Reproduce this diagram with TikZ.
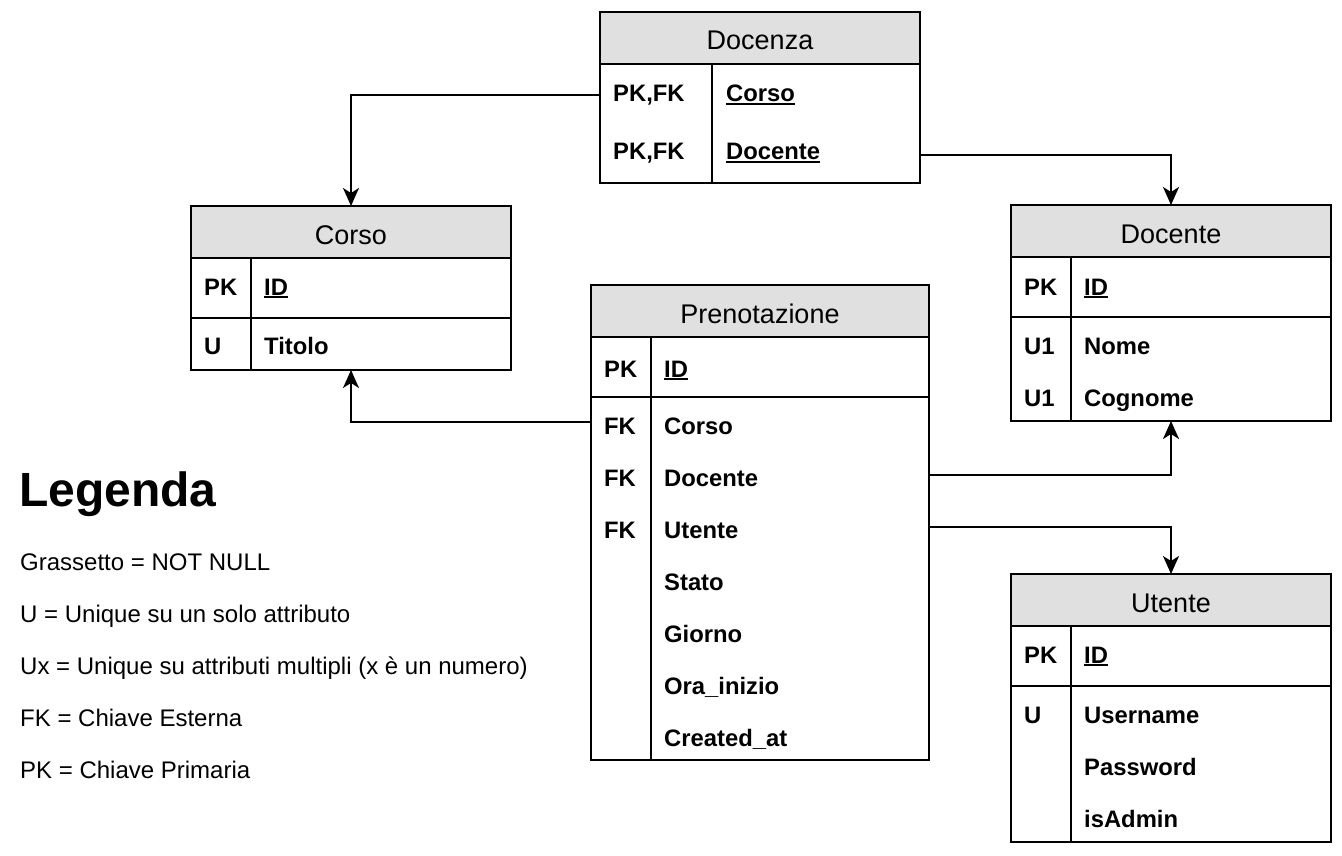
\documentclass[tikz,border=0pt]{standalone}
\usepackage{fontspec}
\setmainfont{Liberation Sans}
\usetikzlibrary{arrows.meta}

\definecolor{hdrgray}{RGB}{224,224,224}
\newcommand{\ttlfont}{\fontsize{27}{32}\selectfont}
\newcommand{\fldfont}{\fontsize{23.8}{28}\selectfont\bfseries}
\newcommand{\lgdfont}{\fontsize{24}{28}\selectfont}
\newcommand{\pkline}[1]{{\setbox0\hbox{#1}\rlap{\rule[-3pt]{\wd0}{1.7pt}}\box0}}

\tikzset{
  tbl/.style={draw, line width=2pt, inner sep=0pt, outer sep=0pt, anchor=north west, minimum width=320pt},
  hdr/.style={tbl, fill=hdrgray, minimum height=52pt, font=\ttlfont, text height=24pt, text depth=0pt},
  col/.style={line width=2pt},
  fld/.style={anchor=base west, inner sep=0pt, font=\fldfont},
  lgd/.style={anchor=base west, inner sep=0pt, font=\lgdfont},
  fk/.style={line width=2pt, -{Stealth[length=18pt,width=16pt,inset=5pt]}},
}

\begin{document}
\begin{tikzpicture}[x=1pt, y=-1pt]

  \useasboundingbox (0,0) rectangle (1342,856);

  % Docenza
  \node[hdr] (docenza) at (600,12) {Docenza};
  \node[tbl, minimum height=119pt] (dz-body) at (600,64) {};
  \draw[col] ([xshift=112pt]dz-body.north west) -- ([xshift=112pt]dz-body.south west);
  \node[fld] (dz-k1) at (613,102) {PK,FK};
  \node[fld] (dz-f1) at (726,102) {\pkline{Corso}};
  \node[fld] (dz-k2) at (613,160) {PK,FK};
  \node[fld] (dz-f2) at (726,160) {\pkline{Docente}};

  % Corso
  \node[hdr] (corso) at (191,206) {Corso};
  \node[tbl, minimum height=60pt] (corso-pk) at (191,258) {};
  \node[tbl, minimum height=52pt] (corso-u) at (191,318) {};
  \draw[col] ([xshift=60pt]corso-pk.north west) -- ([xshift=60pt]corso-u.south west);
  \node[fld] (corso-k1) at (204,295) {PK};
  \node[fld] (corso-f1) at (264,295) {\pkline{ID}};
  \node[fld] (corso-k2) at (204,354) {U};
  \node[fld] (corso-f2) at (264,354) {Titolo};

  % Prenotazione
  \node[hdr, minimum width=338pt] (pren) at (591,285) {Prenotazione};
  \node[tbl, minimum width=338pt, minimum height=60pt] (pren-pk) at (591,337) {};
  \node[tbl, minimum width=338pt, minimum height=363pt] (pren-rest) at (591,397) {};
  \draw[col] ([xshift=60pt]pren-pk.north west) -- ([xshift=60pt]pren-rest.south west);
  \node[fld] (pren-k1) at (604,377) {PK};
  \node[fld] (pren-f1) at (664,377) {\pkline{ID}};
  \node[fld] (pren-k2) at (604,434) {FK};
  \node[fld] (pren-f2) at (664,434) {Corso};
  \node[fld] (pren-k3) at (604,486) {FK};
  \node[fld] (pren-f3) at (664,486) {Docente};
  \node[fld] (pren-k4) at (604,538) {FK};
  \node[fld] (pren-f4) at (664,538) {Utente};
  \node[fld] (pren-f5) at (664,590) {Stato};
  \node[fld] (pren-f6) at (664,642) {Giorno};
  \node[fld] (pren-f7) at (664,694) {Ora\_inizio};
  \node[fld] (pren-f8) at (664,746) {Created\_at};

  % Docente
  \node[hdr] (docente) at (1011,205) {Docente};
  \node[tbl, minimum height=60pt] (docente-pk) at (1011,257) {};
  \node[tbl, minimum height=104pt] (docente-rest) at (1011,317) {};
  \draw[col] ([xshift=60pt]docente-pk.north west) -- ([xshift=60pt]docente-rest.south west);
  \node[fld] (docente-k1) at (1024,295) {PK};
  \node[fld] (docente-f1) at (1084,295) {\pkline{ID}};
  \node[fld] (docente-k2) at (1024,354) {U1};
  \node[fld] (docente-f2) at (1084,354) {Nome};
  \node[fld] (docente-k3) at (1024,406) {U1};
  \node[fld] (docente-f3) at (1084,406) {Cognome};

  % Utente
  \node[hdr] (utente) at (1011,574) {Utente};
  \node[tbl, minimum height=60pt] (utente-pk) at (1011,626) {};
  \node[tbl, minimum height=156pt] (utente-rest) at (1011,686) {};
  \draw[col] ([xshift=60pt]utente-pk.north west) -- ([xshift=60pt]utente-rest.south west);
  \node[fld] (utente-k1) at (1024,663) {PK};
  \node[fld] (utente-f1) at (1084,663) {\pkline{ID}};
  \node[fld] (utente-k2) at (1024,723) {U};
  \node[fld] (utente-f2) at (1084,723) {Username};
  \node[fld] (utente-f3) at (1084,775) {Password};
  \node[fld] (utente-f4) at (1084,827) {isAdmin};

  % foreign keys
  \coordinate (dz-out1) at (600,95);
  \coordinate (dz-out2) at (920,155);
  \coordinate (pren-out1) at (591,422);
  \coordinate (pren-out2) at (929,475);
  \coordinate (pren-out3) at (929,527);

  \draw[fk] (dz-out1) -| (corso.north);
  \draw[fk] (dz-out2) -| (docente.north);
  \draw[fk] (pren-out1) -| (corso-u.south);
  \draw[fk] (pren-out2) -| (docente-rest.south);
  \draw[fk] (pren-out3) -| (utente.north);

  % Legenda
  \node[anchor=base west, inner sep=0pt, font=\fontsize{48}{56}\selectfont\bfseries] (legenda) at (19,506) {Legenda};
  \node[lgd] (lg1) at (20,570) {Grassetto = NOT NULL};
  \node[lgd] (lg2) at (20,622) {U = Unique su un solo attributo};
  \node[lgd] (lg3) at (20,674) {Ux = Unique su attributi multipli (x è un numero)};
  \node[lgd] (lg4) at (20,726) {FK = Chiave Esterna};
  \node[lgd] (lg5) at (20,778) {PK = Chiave Primaria};

\end{tikzpicture}
\end{document}
